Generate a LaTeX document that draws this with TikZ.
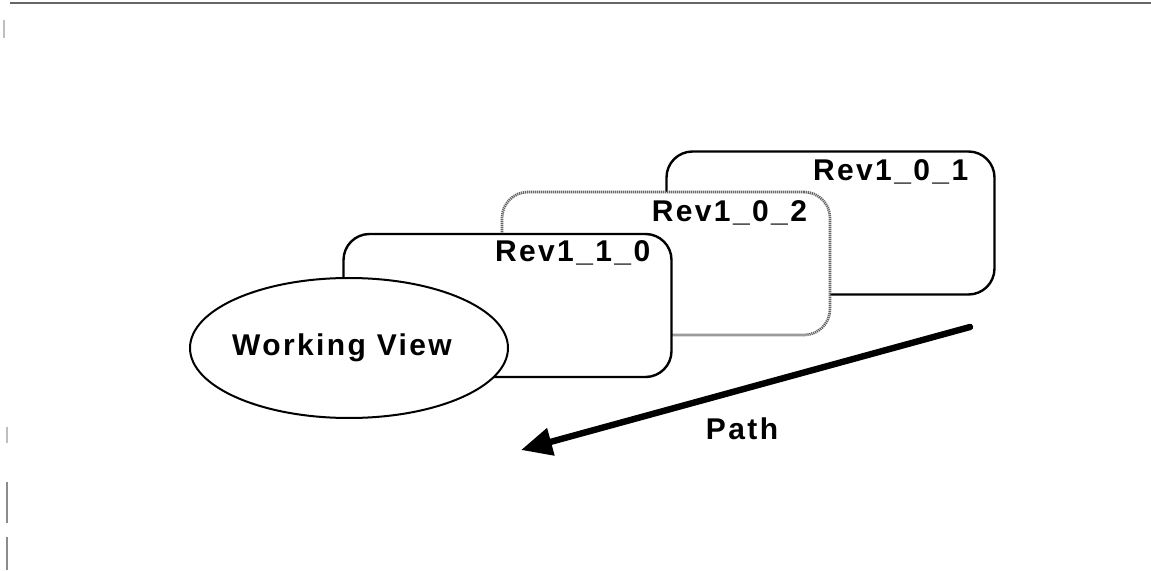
\documentclass[tikz,border=0pt]{standalone}
\usepackage{fontspec}
\setsansfont{Liberation Sans}[LetterSpace=8]
\usetikzlibrary{shapes.geometric,arrows.meta,calc}

\tikzset{
  x=0.5pt, y=-0.5pt,
  txt/.style={font=\sffamily\bfseries\fontsize{15}{17}\selectfont, inner sep=0pt},
  revbox/.style={draw, line width=1.2pt, rounded corners=13pt, fill=white,
    minimum width=164pt, minimum height=71.5pt, inner sep=0pt},
  ghostbox/.style={revbox, draw=black!60, line width=1.4pt, dash pattern=on 0.6pt off 0.4pt},
  revlabel/.style={txt, anchor=base east},
  viewoval/.style={ellipse, draw, line width=1pt, fill=white, txt,
    minimum width=159pt, minimum height=70pt},
  patharrow/.style={line width=3.2pt, line cap=round,
    -{Triangle[length=15.5pt,width=13.5pt]}},
  edge mark/.style={draw=black!45, line width=0.6pt}
}

\begin{document}
\begin{tikzpicture}
\useasboundingbox (0,0) rectangle (1151,571);

% ruled frame remnants along the top and left margins
\draw[black!60, line width=1pt] (10,3) -- (1151,3);
\draw[edge mark, black!25] (4,20) -- (4,38);
\draw[edge mark, black!25] (7,427) -- (7,443);
\draw[edge mark] (7,482) -- (7,523);
\draw[edge mark] (7,537) -- (7,570);

% stacked revisions, oldest at the back
\node[revbox]   (r01) at (830.5,223)   {};
\node[revlabel] (l01) at ($(r01.north east)+(-27,30)$) {Rev1\_0\_1};

\node[ghostbox] (r02) at (666,263.5)   {};
\node[revlabel] (l02) at ($(r02.north east)+(-24,31)$) {Rev1\_0\_2};

\node[revbox]   (r10) at (507.5,305.5) {};
\node[revlabel] (l10) at ($(r10.north east)+(-22,29)$) {Rev1\_1\_0};

% the working view in front (text sits a little left of the centre)
\node[viewoval] (wv) at (349,348) {\kern-7pt Working View};

% direction of the revision path
\coordinate (pstart) at (970,327);
\coordinate (pend)   at (521,450);
\draw[patharrow] (pstart) -- (pend);
\node[txt, anchor=base] (plabel) at (742,440) {Path};
\end{tikzpicture}
\end{document}
